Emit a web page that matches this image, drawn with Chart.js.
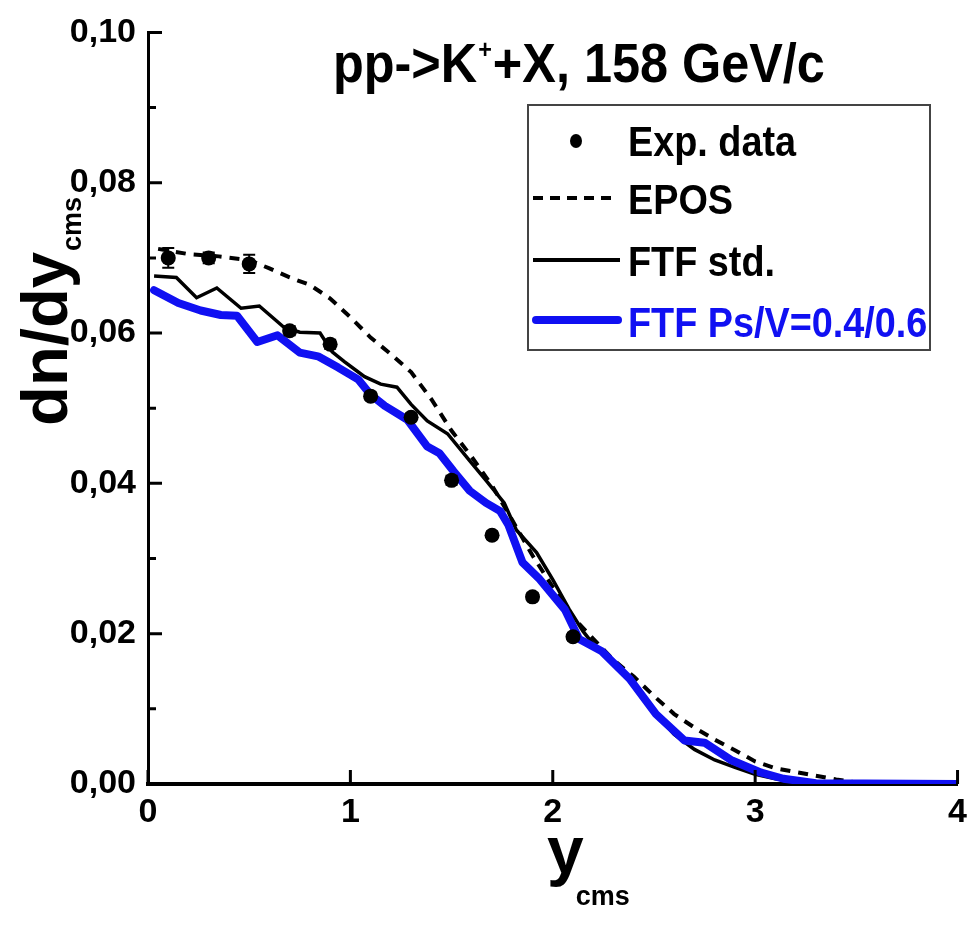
<!DOCTYPE html>
<html lang="en">
<head>
  <meta charset="UTF-8">
  <title>pp->K+X, 158 GeV/c</title>
  <style>
    html, body { margin: 0; padding: 0; background: #fff; }
    #chart { display: block; }
  </style>
</head>
<body>
<canvas id="chart" width="975" height="925"></canvas>
<script src="https://cdn.jsdelivr.net/npm/chart.js"></script>
<script>
  // experimental points
  const expX   = [0.1, 0.3, 0.5, 0.7, 0.9, 1.1, 1.3, 1.5, 1.7, 1.9, 2.1];
  const expY   = [0.0700, 0.0700, 0.0692, 0.0603, 0.0585, 0.0516, 0.0488, 0.0404, 0.0331, 0.0249, 0.0196];
  const expErr = [0.0013, 0.0007, 0.0012, 0.0006, 0.0006, 0.0005, 0.0005, 0.0006, 0.0005, 0.0005, 0.0005];

  // EPOS (dashed)
  const eposX = [0.05, 0.2, 0.35, 0.5, 0.6, 0.7, 0.8, 0.9, 1.0, 1.1, 1.2, 1.3, 1.4, 1.5, 1.6, 1.7, 1.8, 1.9, 2.0,
                 2.1, 2.2, 2.3, 2.4, 2.5, 2.6, 2.7, 2.8, 2.9, 3.0, 3.1, 3.2, 3.3, 3.4, 3.5, 3.6, 4.0];
  const eposY = [0.0712, 0.0705, 0.0702, 0.0697, 0.0686, 0.0674, 0.0664, 0.0646, 0.0621, 0.0594, 0.0572, 0.0548,
                 0.0512, 0.0470, 0.0435, 0.0397, 0.0351, 0.0304, 0.0262, 0.0222, 0.0193, 0.0165, 0.0143, 0.0117,
                 0.0093, 0.0075, 0.0059, 0.0045, 0.0030, 0.0021, 0.0016, 0.0011, 0.0006, 0.0002, 0, 0];

  // FTF std. (solid black)
  const ftfX = [0.03, 0.14, 0.24, 0.34, 0.46, 0.55, 0.67, 0.75, 0.85, 0.91, 0.97, 1.07, 1.15, 1.23, 1.30, 1.38,
                1.48, 1.59, 1.67, 1.76, 1.82, 1.92, 2.0, 2.08, 2.15, 2.2, 2.3, 2.4, 2.5, 2.6, 2.7, 2.8, 2.9, 3.0,
                3.1, 3.2, 3.3, 3.5, 4.0];
  const ftfY = [0.0676, 0.0674, 0.0647, 0.0660, 0.0633, 0.0636, 0.0608, 0.0601, 0.0600, 0.0575, 0.0562, 0.0542,
                0.0532, 0.0528, 0.0505, 0.0483, 0.0466, 0.0430, 0.0404, 0.0374, 0.0338, 0.0308, 0.0272, 0.0233,
                0.0203, 0.0186, 0.0163, 0.0130, 0.0096, 0.0066, 0.0046, 0.0032, 0.0022, 0.0013, 0.0007, 0.0003,
                0.0001, 0, 0];

  // FTF Ps/V=0.4/0.6 (thick blue)
  const psvX = [0.03, 0.15, 0.26, 0.36, 0.44, 0.54, 0.64, 0.75, 0.84, 0.94, 1.04, 1.10, 1.17, 1.28, 1.38, 1.44,
                1.51, 1.59, 1.67, 1.74, 1.78, 1.85, 1.93, 2.06, 2.13, 2.24, 2.38, 2.51, 2.65, 2.75, 2.88, 3.03,
                3.14, 3.3, 4.0];
  const psvY = [0.0657, 0.0640, 0.0630, 0.0624, 0.0623, 0.0588, 0.0597, 0.0574, 0.0569, 0.0554, 0.0538, 0.0518,
                0.0503, 0.0485, 0.0449, 0.0440, 0.0416, 0.0390, 0.0374, 0.0363, 0.0345, 0.0295, 0.0274, 0.0232,
                0.0193, 0.0177, 0.0140, 0.0093, 0.0058, 0.0055, 0.0032, 0.0015, 0.0007, 0.0001, 0];

  const xTicks = [0, 1, 2, 3, 4];
  const yTicks = [0, 0.02, 0.04, 0.06, 0.08, 0.10];
  const yMinorTicks = [0.01, 0.03, 0.05, 0.07, 0.09];

  const legendLabels = ['Exp. data', 'EPOS', 'FTF std.', 'FTF Ps/V=0.4/0.6'];
  const BLUE = '#1010f2';

  const pairs = (xs, ys) => xs.map((x, i) => ({ x: x, y: ys[i] }));

  // text with horizontal squeeze (reference uses a narrow bold face)
  function drawText(ctx, txt, x, y, size, sx, color) {
    ctx.save();
    ctx.font = 'bold ' + size + 'px "Liberation Sans", Arial, sans-serif';
    ctx.fillStyle = color || '#000';
    ctx.textBaseline = 'alphabetic';
    ctx.textAlign = 'left';
    ctx.translate(x, y);
    ctx.scale(sx, 1);
    ctx.fillText(txt, 0, 0);
    const w = ctx.measureText(txt).width * sx;
    ctx.restore();
    return w;
  }

  const decorPlugin = {
    id: 'decor',
    afterDatasetsDraw(chart) {
      const ctx = chart.ctx;
      const xs = chart.scales.x, ys = chart.scales.y;
      const left = chart.chartArea.left, bottom = chart.chartArea.bottom;

      // error bars on exp. points
      ctx.save();
      ctx.strokeStyle = '#000';
      ctx.lineWidth = 2;
      expX.forEach((x, i) => {
        const px = xs.getPixelForValue(x);
        const y1 = ys.getPixelForValue(expY[i] - expErr[i]);
        const y2 = ys.getPixelForValue(expY[i] + expErr[i]);
        ctx.beginPath();
        ctx.moveTo(px, y1); ctx.lineTo(px, y2);
        ctx.moveTo(px - 6, y1); ctx.lineTo(px + 6, y1);
        ctx.moveTo(px - 6, y2); ctx.lineTo(px + 6, y2);
        ctx.stroke();
      });
      ctx.restore();

      // inward ticks
      ctx.save();
      ctx.strokeStyle = '#000';
      ctx.lineWidth = 3;
      ctx.beginPath();
      yTicks.forEach(v => {
        const py = ys.getPixelForValue(v);
        ctx.moveTo(left, py); ctx.lineTo(left + 14, py);
      });
      yMinorTicks.forEach(v => {
        const py = ys.getPixelForValue(v);
        ctx.moveTo(left, py); ctx.lineTo(left + 8, py);
      });
      xTicks.forEach(v => {
        const px = xs.getPixelForValue(v);
        ctx.moveTo(px, bottom); ctx.lineTo(px, bottom - 14);
      });
      ctx.stroke();
      ctx.restore();
    },
    afterDraw(chart) {
      const ctx = chart.ctx;

      // title with superscript
      let x = 333;
      const base = 82;
      x += drawText(ctx, 'pp->K', x, base, 56, 0.9);
      x += drawText(ctx, '+', x + 1, base - 24, 26, 0.9) + 2;
      drawText(ctx, '+X, 158 GeV/c', x, base, 56, 0.9);

      // y axis title, rotated
      ctx.save();
      ctx.translate(67, 426);
      ctx.rotate(-Math.PI / 2);
      const w = drawText(ctx, 'dn/dy', 0, 0, 64, 1.02);
      drawText(ctx, 'cms', w + 1, 14, 27, 1.0);
      ctx.restore();

      // x axis title
      const wy = drawText(ctx, 'y', 547, 873, 66, 1.0);
      drawText(ctx, 'cms', 547 + wy - 8, 905, 27, 1.0);

      // legend box
      ctx.save();
      ctx.strokeStyle = '#444';
      ctx.lineWidth = 2;
      ctx.strokeRect(528, 105, 402, 245);

      ctx.fillStyle = '#000';
      ctx.beginPath();
      ctx.ellipse(576, 141, 6, 7, 0, 0, Math.PI * 2);
      ctx.fill();

      ctx.strokeStyle = '#000';
      ctx.lineWidth = 4;
      ctx.setLineDash([10, 7]);
      ctx.beginPath(); ctx.moveTo(533, 198); ctx.lineTo(612, 198); ctx.stroke();
      ctx.setLineDash([]);
      ctx.beginPath(); ctx.moveTo(533, 260); ctx.lineTo(620, 260); ctx.stroke();

      ctx.strokeStyle = BLUE;
      ctx.lineWidth = 8;
      ctx.lineCap = 'round';
      ctx.beginPath(); ctx.moveTo(536, 320); ctx.lineTo(618, 320); ctx.stroke();
      ctx.restore();

      drawText(ctx, legendLabels[0], 628, 156, 42, 0.9);
      drawText(ctx, legendLabels[1], 628, 214, 42, 0.9);
      drawText(ctx, legendLabels[2], 628, 276, 42, 0.9);
      drawText(ctx, legendLabels[3], 628, 337, 42, 0.9, BLUE);
    }
  };

  const tickFont = { family: '"Liberation Sans", Arial, sans-serif', size: 34, weight: 'bold' };

  new Chart(document.getElementById('chart'), {
    type: 'line',
    data: {
      datasets: [
        {
          label: legendLabels[0],
          data: pairs(expX, expY),
          showLine: false,
          pointRadius: 7.5,
          pointBackgroundColor: '#000',
          pointBorderColor: '#000',
          pointBorderWidth: 0
        },
        {
          label: legendLabels[3],
          data: pairs(psvX, psvY),
          borderColor: BLUE,
          borderWidth: 8,
          borderJoinStyle: 'round',
          borderCapStyle: 'round',
          pointRadius: 0,
          tension: 0
        },
        {
          label: legendLabels[2],
          data: pairs(ftfX, ftfY),
          borderColor: '#000',
          borderWidth: 3.5,
          pointRadius: 0,
          tension: 0
        },
        {
          label: legendLabels[1],
          data: pairs(eposX, eposY),
          borderColor: '#000',
          borderWidth: 4,
          borderDash: [10, 8],
          pointRadius: 0,
          tension: 0
        }
      ]
    },
    options: {
      responsive: false,
      animation: false,
      layout: { padding: { left: 0, top: 24, right: 10, bottom: 0 } },
      plugins: {
        legend: { display: false },
        tooltip: { enabled: false },
        title: { display: false }
      },
      scales: {
        x: {
          type: 'linear',
          min: 0,
          max: 4,
          afterFit: s => { s.height = 141; },
          afterBuildTicks: s => { s.ticks = xTicks.map(v => ({ value: v })); },
          grid: { display: true, drawOnChartArea: false, drawTicks: false },
          border: { display: true, color: '#000', width: 4 },
          ticks: {
            color: '#000',
            font: tickFont,
            padding: 8,
            maxRotation: 0,
            callback: v => String(v)
          }
        },
        y: {
          type: 'linear',
          min: 0,
          max: 0.10,
          afterFit: s => { s.width = 148; },
          afterBuildTicks: s => { s.ticks = yTicks.map(v => ({ value: v })); },
          grid: { display: true, drawOnChartArea: false, drawTicks: false },
          border: { display: true, color: '#000', width: 3 },
          ticks: {
            color: '#000',
            font: tickFont,
            padding: 12,
            callback: v => Number(v).toFixed(2).replace('.', ',')
          }
        }
      }
    },
    plugins: [decorPlugin]
  });
</script>
</body>
</html>
